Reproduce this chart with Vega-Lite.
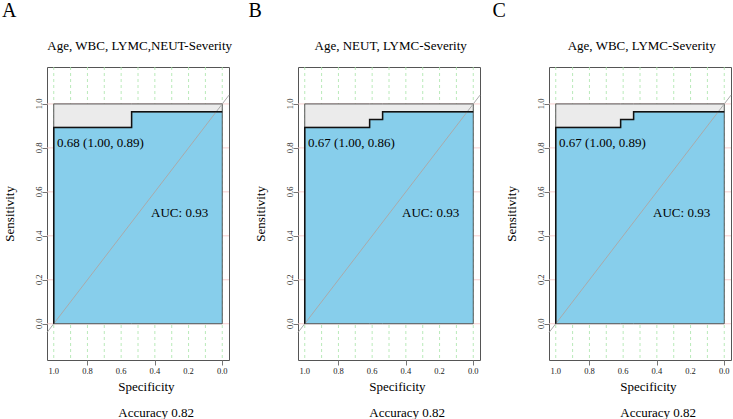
{
  "$schema": "https://vega.github.io/schema/vega-lite/v6.json",
  "padding": {"left": 1, "top": 0, "right": 0, "bottom": 0},
  "background": "white",
  "datasets": {
    "vgrid": [{"spec": 0}, {"spec": 0.1}, {"spec": 0.2}, {"spec": 0.3}, {"spec": 0.4}, {"spec": 0.5}, {"spec": 0.6}, {"spec": 0.7}, {"spec": 0.8}, {"spec": 0.9}, {"spec": 1}],
    "hgrid": [{"sens": 0}, {"sens": 0.2}, {"sens": 0.4}, {"sens": 0.6}, {"sens": 0.8}, {"sens": 1}],
    "xlab": [{"spec": 0}, {"spec": 0.2}, {"spec": 0.4}, {"spec": 0.6}, {"spec": 0.8}, {"spec": 1}],
    "diag": [{"spec": 1.04, "sens": -0.04}, {"spec": -0.04, "sens": 1.04}],
    "rocA": [{"spec": 0, "sens": 0.964}, {"spec": 0.538, "sens": 0.893}, {"spec": 1, "sens": 0}],
    "rocB": [{"spec": 0, "sens": 0.964}, {"spec": 0.538, "sens": 0.929}, {"spec": 0.615, "sens": 0.893}, {"spec": 1, "sens": 0}],
    "rocC": [{"spec": 0, "sens": 0.964}, {"spec": 0.538, "sens": 0.929}, {"spec": 0.615, "sens": 0.893}, {"spec": 1, "sens": 0}]
  },
  "hconcat": [
    {
      "width": 182, "height": 293,
      "layer": [
        {"data": {"name": "vgrid"}, "mark": {"type": "rule", "stroke": "#A8E4A8", "strokeDash": [3, 3], "strokeWidth": 0.8},
         "encoding": {"x": {"field": "spec", "type": "quantitative", "title": null, "scale": {"domain": [-0.04, 1.04], "reverse": true, "nice": false, "zero": false}, "axis": {"values": [0, 0.2, 0.4, 0.6, 0.8, 1], "labels": false, "tickSize": 5, "tickColor": "#777777", "domain": false, "grid": false}}}},
        {"data": {"name": "hgrid"}, "mark": {"type": "rule", "stroke": "#F5C2C2", "strokeWidth": 0.8},
         "encoding": {"y": {"field": "sens", "type": "quantitative", "title": null, "scale": {"domain": [-0.165, 1.168], "nice": false, "zero": false}, "axis": {"values": [0, 0.2, 0.4, 0.6, 0.8, 1], "labels": false, "tickSize": 5, "tickColor": "#777777", "domain": false, "grid": false}}}},
        {"data": {"name": "rocA"}, "mark": {"type": "area", "interpolate": "step-before", "fill": "#EBEBEB", "stroke": "#555555", "strokeWidth": 1},
         "encoding": {"x": {"field": "spec", "type": "quantitative", "title": null}, "y": {"field": "sens", "type": "quantitative", "title": null}, "y2": {"datum": 1}}},
        {"data": {"name": "rocA"}, "mark": {"type": "area", "interpolate": "step-before", "fill": "#87CEEB", "stroke": "#555555", "strokeWidth": 1},
         "encoding": {"x": {"field": "spec", "type": "quantitative", "title": null}, "y": {"field": "sens", "type": "quantitative", "title": null}, "y2": {"datum": 0}}},
        {"data": {"name": "diag"}, "mark": {"type": "line", "stroke": "#AAAAAA", "strokeWidth": 1},
         "encoding": {"x": {"field": "spec", "type": "quantitative", "title": null}, "y": {"field": "sens", "type": "quantitative", "title": null}}},
        {"data": {"name": "rocA"}, "mark": {"type": "line", "interpolate": "step-before", "stroke": "#111111", "strokeWidth": 1.5},
         "encoding": {"x": {"field": "spec", "type": "quantitative", "title": null}, "y": {"field": "sens", "type": "quantitative", "title": null}}},
        {"data": {"name": "xlab"}, "mark": {"type": "text", "fontSize": 8.5, "align": "center", "baseline": "middle", "dy": 10.5, "color": "#222222"},
         "encoding": {"x": {"field": "spec", "type": "quantitative", "title": null}, "y": {"datum": -0.165, "type": "quantitative", "title": null}, "text": {"field": "spec", "type": "quantitative", "format": ".1f"}}},
        {"data": {"name": "hgrid"}, "mark": {"type": "text", "fontSize": 8.5, "align": "center", "baseline": "middle", "angle": 270, "dy": -8.5, "color": "#222222"},
         "encoding": {"x": {"datum": 1.04, "type": "quantitative", "title": null}, "y": {"field": "sens", "type": "quantitative", "title": null}, "text": {"field": "sens", "type": "quantitative", "format": ".1f"}}},
        {"data": {"values": [{"label": "0.68 (1.00, 0.89)"}]}, "mark": {"type": "text", "fontSize": 13, "align": "left", "baseline": "middle"},
         "encoding": {"x": {"datum": 0.98, "type": "quantitative", "title": null}, "y": {"datum": 0.82, "type": "quantitative", "title": null}, "text": {"field": "label"}}},
        {"data": {"values": [{"label": "AUC: 0.93"}]}, "mark": {"type": "text", "fontSize": 13, "align": "center", "baseline": "middle"},
         "encoding": {"x": {"datum": 0.253, "type": "quantitative", "title": null}, "y": {"datum": 0.503, "type": "quantitative", "title": null}, "text": {"field": "label"}}},
        {"data": {"values": [{"label": "Age, WBC, LYMC,NEUT-Severity"}]}, "mark": {"type": "text", "fontSize": 13, "align": "center", "baseline": "middle"},
         "encoding": {"x": {"datum": 0.49, "type": "quantitative", "title": null}, "y": {"datum": 1.265, "type": "quantitative", "title": null}, "text": {"field": "label"}}},
        {"data": {"values": [{"label": "A"}]}, "mark": {"type": "text", "fontSize": 20, "align": "left", "baseline": "alphabetic"},
         "encoding": {"x": {"datum": 1.307, "type": "quantitative", "title": null}, "y": {"datum": 1.396, "type": "quantitative", "title": null}, "text": {"field": "label"}}},
        {"data": {"values": [{"label": "Specificity"}]}, "mark": {"type": "text", "fontSize": 13, "align": "left", "baseline": "middle"},
         "encoding": {"x": {"datum": 0.617, "type": "quantitative", "title": null}, "y": {"datum": -0.287, "type": "quantitative", "title": null}, "text": {"field": "label"}}},
        {"data": {"values": [{"label": "Accuracy 0.82"}]}, "mark": {"type": "text", "fontSize": 13, "align": "left", "baseline": "middle"},
         "encoding": {"x": {"datum": 0.617, "type": "quantitative", "title": null}, "y": {"datum": -0.405, "type": "quantitative", "title": null}, "text": {"field": "label"}}},
        {"data": {"values": [{"label": "Sensitivity"}]}, "mark": {"type": "text", "fontSize": 13, "align": "center", "baseline": "middle", "angle": 270},
         "encoding": {"x": {"datum": 1.257, "type": "quantitative", "title": null}, "y": {"datum": 0.5, "type": "quantitative", "title": null}, "text": {"field": "label"}}}
      ]
    },
    {
      "width": 182, "height": 293,
      "layer": [
        {"data": {"name": "vgrid"}, "mark": {"type": "rule", "stroke": "#A8E4A8", "strokeDash": [3, 3], "strokeWidth": 0.8},
         "encoding": {"x": {"field": "spec", "type": "quantitative", "title": null, "scale": {"domain": [-0.04, 1.04], "reverse": true, "nice": false, "zero": false}, "axis": {"values": [0, 0.2, 0.4, 0.6, 0.8, 1], "labels": false, "tickSize": 5, "tickColor": "#777777", "domain": false, "grid": false}}}},
        {"data": {"name": "hgrid"}, "mark": {"type": "rule", "stroke": "#F5C2C2", "strokeWidth": 0.8},
         "encoding": {"y": {"field": "sens", "type": "quantitative", "title": null, "scale": {"domain": [-0.165, 1.168], "nice": false, "zero": false}, "axis": {"values": [0, 0.2, 0.4, 0.6, 0.8, 1], "labels": false, "tickSize": 5, "tickColor": "#777777", "domain": false, "grid": false}}}},
        {"data": {"name": "rocB"}, "mark": {"type": "area", "interpolate": "step-before", "fill": "#EBEBEB", "stroke": "#555555", "strokeWidth": 1},
         "encoding": {"x": {"field": "spec", "type": "quantitative", "title": null}, "y": {"field": "sens", "type": "quantitative", "title": null}, "y2": {"datum": 1}}},
        {"data": {"name": "rocB"}, "mark": {"type": "area", "interpolate": "step-before", "fill": "#87CEEB", "stroke": "#555555", "strokeWidth": 1},
         "encoding": {"x": {"field": "spec", "type": "quantitative", "title": null}, "y": {"field": "sens", "type": "quantitative", "title": null}, "y2": {"datum": 0}}},
        {"data": {"name": "diag"}, "mark": {"type": "line", "stroke": "#AAAAAA", "strokeWidth": 1},
         "encoding": {"x": {"field": "spec", "type": "quantitative", "title": null}, "y": {"field": "sens", "type": "quantitative", "title": null}}},
        {"data": {"name": "rocB"}, "mark": {"type": "line", "interpolate": "step-before", "stroke": "#111111", "strokeWidth": 1.5},
         "encoding": {"x": {"field": "spec", "type": "quantitative", "title": null}, "y": {"field": "sens", "type": "quantitative", "title": null}}},
        {"data": {"name": "xlab"}, "mark": {"type": "text", "fontSize": 8.5, "align": "center", "baseline": "middle", "dy": 10.5, "color": "#222222"},
         "encoding": {"x": {"field": "spec", "type": "quantitative", "title": null}, "y": {"datum": -0.165, "type": "quantitative", "title": null}, "text": {"field": "spec", "type": "quantitative", "format": ".1f"}}},
        {"data": {"name": "hgrid"}, "mark": {"type": "text", "fontSize": 8.5, "align": "center", "baseline": "middle", "angle": 270, "dy": -8.5, "color": "#222222"},
         "encoding": {"x": {"datum": 1.04, "type": "quantitative", "title": null}, "y": {"field": "sens", "type": "quantitative", "title": null}, "text": {"field": "sens", "type": "quantitative", "format": ".1f"}}},
        {"data": {"values": [{"label": "0.67 (1.00, 0.86)"}]}, "mark": {"type": "text", "fontSize": 13, "align": "left", "baseline": "middle"},
         "encoding": {"x": {"datum": 0.98, "type": "quantitative", "title": null}, "y": {"datum": 0.82, "type": "quantitative", "title": null}, "text": {"field": "label"}}},
        {"data": {"values": [{"label": "AUC: 0.93"}]}, "mark": {"type": "text", "fontSize": 13, "align": "center", "baseline": "middle"},
         "encoding": {"x": {"datum": 0.253, "type": "quantitative", "title": null}, "y": {"datum": 0.503, "type": "quantitative", "title": null}, "text": {"field": "label"}}},
        {"data": {"values": [{"label": "Age, NEUT, LYMC-Severity"}]}, "mark": {"type": "text", "fontSize": 13, "align": "center", "baseline": "middle"},
         "encoding": {"x": {"datum": 0.49, "type": "quantitative", "title": null}, "y": {"datum": 1.265, "type": "quantitative", "title": null}, "text": {"field": "label"}}},
        {"data": {"values": [{"label": "B"}]}, "mark": {"type": "text", "fontSize": 20, "align": "left", "baseline": "alphabetic"},
         "encoding": {"x": {"datum": 1.333, "type": "quantitative", "title": null}, "y": {"datum": 1.396, "type": "quantitative", "title": null}, "text": {"field": "label"}}},
        {"data": {"values": [{"label": "Specificity"}]}, "mark": {"type": "text", "fontSize": 13, "align": "left", "baseline": "middle"},
         "encoding": {"x": {"datum": 0.617, "type": "quantitative", "title": null}, "y": {"datum": -0.287, "type": "quantitative", "title": null}, "text": {"field": "label"}}},
        {"data": {"values": [{"label": "Accuracy 0.82"}]}, "mark": {"type": "text", "fontSize": 13, "align": "left", "baseline": "middle"},
         "encoding": {"x": {"datum": 0.617, "type": "quantitative", "title": null}, "y": {"datum": -0.405, "type": "quantitative", "title": null}, "text": {"field": "label"}}},
        {"data": {"values": [{"label": "Sensitivity"}]}, "mark": {"type": "text", "fontSize": 13, "align": "center", "baseline": "middle", "angle": 270},
         "encoding": {"x": {"datum": 1.257, "type": "quantitative", "title": null}, "y": {"datum": 0.5, "type": "quantitative", "title": null}, "text": {"field": "label"}}}
      ]
    },
    {
      "width": 182, "height": 293,
      "layer": [
        {"data": {"name": "vgrid"}, "mark": {"type": "rule", "stroke": "#A8E4A8", "strokeDash": [3, 3], "strokeWidth": 0.8},
         "encoding": {"x": {"field": "spec", "type": "quantitative", "title": null, "scale": {"domain": [-0.04, 1.04], "reverse": true, "nice": false, "zero": false}, "axis": {"values": [0, 0.2, 0.4, 0.6, 0.8, 1], "labels": false, "tickSize": 5, "tickColor": "#777777", "domain": false, "grid": false}}}},
        {"data": {"name": "hgrid"}, "mark": {"type": "rule", "stroke": "#F5C2C2", "strokeWidth": 0.8},
         "encoding": {"y": {"field": "sens", "type": "quantitative", "title": null, "scale": {"domain": [-0.165, 1.168], "nice": false, "zero": false}, "axis": {"values": [0, 0.2, 0.4, 0.6, 0.8, 1], "labels": false, "tickSize": 5, "tickColor": "#777777", "domain": false, "grid": false}}}},
        {"data": {"name": "rocC"}, "mark": {"type": "area", "interpolate": "step-before", "fill": "#EBEBEB", "stroke": "#555555", "strokeWidth": 1},
         "encoding": {"x": {"field": "spec", "type": "quantitative", "title": null}, "y": {"field": "sens", "type": "quantitative", "title": null}, "y2": {"datum": 1}}},
        {"data": {"name": "rocC"}, "mark": {"type": "area", "interpolate": "step-before", "fill": "#87CEEB", "stroke": "#555555", "strokeWidth": 1},
         "encoding": {"x": {"field": "spec", "type": "quantitative", "title": null}, "y": {"field": "sens", "type": "quantitative", "title": null}, "y2": {"datum": 0}}},
        {"data": {"name": "diag"}, "mark": {"type": "line", "stroke": "#AAAAAA", "strokeWidth": 1},
         "encoding": {"x": {"field": "spec", "type": "quantitative", "title": null}, "y": {"field": "sens", "type": "quantitative", "title": null}}},
        {"data": {"name": "rocC"}, "mark": {"type": "line", "interpolate": "step-before", "stroke": "#111111", "strokeWidth": 1.5},
         "encoding": {"x": {"field": "spec", "type": "quantitative", "title": null}, "y": {"field": "sens", "type": "quantitative", "title": null}}},
        {"data": {"name": "xlab"}, "mark": {"type": "text", "fontSize": 8.5, "align": "center", "baseline": "middle", "dy": 10.5, "color": "#222222"},
         "encoding": {"x": {"field": "spec", "type": "quantitative", "title": null}, "y": {"datum": -0.165, "type": "quantitative", "title": null}, "text": {"field": "spec", "type": "quantitative", "format": ".1f"}}},
        {"data": {"name": "hgrid"}, "mark": {"type": "text", "fontSize": 8.5, "align": "center", "baseline": "middle", "angle": 270, "dy": -8.5, "color": "#222222"},
         "encoding": {"x": {"datum": 1.04, "type": "quantitative", "title": null}, "y": {"field": "sens", "type": "quantitative", "title": null}, "text": {"field": "sens", "type": "quantitative", "format": ".1f"}}},
        {"data": {"values": [{"label": "0.67 (1.00, 0.89)"}]}, "mark": {"type": "text", "fontSize": 13, "align": "left", "baseline": "middle"},
         "encoding": {"x": {"datum": 0.98, "type": "quantitative", "title": null}, "y": {"datum": 0.82, "type": "quantitative", "title": null}, "text": {"field": "label"}}},
        {"data": {"values": [{"label": "AUC: 0.93"}]}, "mark": {"type": "text", "fontSize": 13, "align": "center", "baseline": "middle"},
         "encoding": {"x": {"datum": 0.253, "type": "quantitative", "title": null}, "y": {"datum": 0.503, "type": "quantitative", "title": null}, "text": {"field": "label"}}},
        {"data": {"values": [{"label": "Age, WBC, LYMC-Severity"}]}, "mark": {"type": "text", "fontSize": 13, "align": "center", "baseline": "middle"},
         "encoding": {"x": {"datum": 0.49, "type": "quantitative", "title": null}, "y": {"datum": 1.265, "type": "quantitative", "title": null}, "text": {"field": "label"}}},
        {"data": {"values": [{"label": "C"}]}, "mark": {"type": "text", "fontSize": 20, "align": "left", "baseline": "alphabetic"},
         "encoding": {"x": {"datum": 1.376, "type": "quantitative", "title": null}, "y": {"datum": 1.396, "type": "quantitative", "title": null}, "text": {"field": "label"}}},
        {"data": {"values": [{"label": "Specificity"}]}, "mark": {"type": "text", "fontSize": 13, "align": "left", "baseline": "middle"},
         "encoding": {"x": {"datum": 0.617, "type": "quantitative", "title": null}, "y": {"datum": -0.287, "type": "quantitative", "title": null}, "text": {"field": "label"}}},
        {"data": {"values": [{"label": "Accuracy 0.82"}]}, "mark": {"type": "text", "fontSize": 13, "align": "left", "baseline": "middle"},
         "encoding": {"x": {"datum": 0.617, "type": "quantitative", "title": null}, "y": {"datum": -0.405, "type": "quantitative", "title": null}, "text": {"field": "label"}}},
        {"data": {"values": [{"label": "Sensitivity"}]}, "mark": {"type": "text", "fontSize": 13, "align": "center", "baseline": "middle", "angle": 270},
         "encoding": {"x": {"datum": 1.257, "type": "quantitative", "title": null}, "y": {"datum": 0.5, "type": "quantitative", "title": null}, "text": {"field": "label"}}}
      ]
    }
  ],
  "bounds": "flush",
  "spacing": 69,
  "config": {
    "view": {"stroke": "#555555", "strokeWidth": 1},
    "font": "Liberation Serif",
    "text": {"font": "Liberation Serif", "color": "#000000"},
    "axis": {"domain": false, "grid": false, "tickSize": 5, "tickColor": "#777777"}
  }
}
